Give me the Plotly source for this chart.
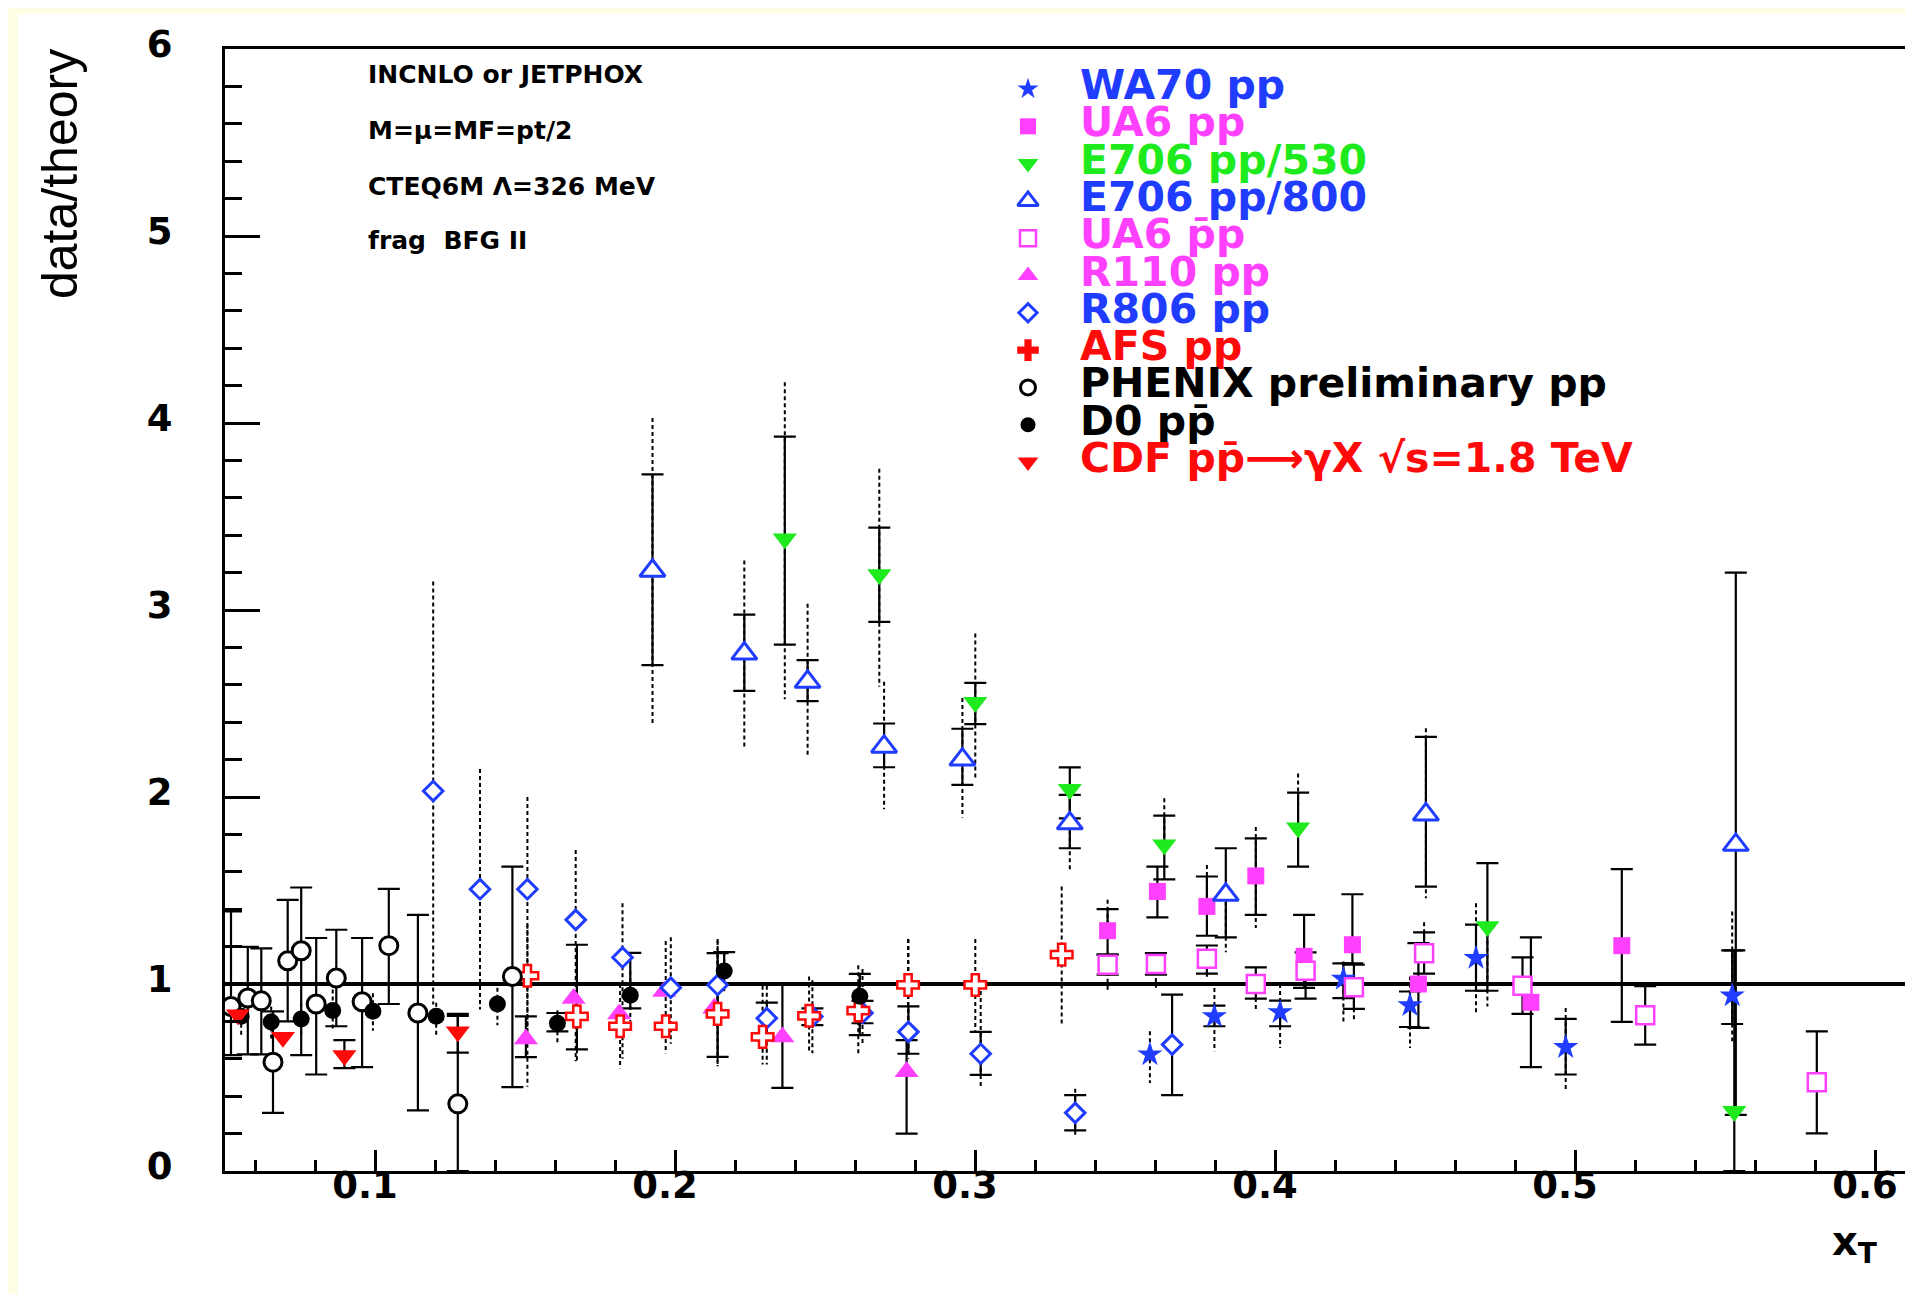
import plotly.graph_objects as go

# ---------------- data (x_T, data/theory) ----------------
# each series: x, y, stat-bar top/bottom (solid, capped), total-bar top/bottom (dotted)
WA70_x = [0.3583, 0.3798, 0.4017, 0.4228, 0.4450, 0.4670, 0.4969, 0.5524]
WA70_y = [0.623, 0.827, 0.849, 1.027, 0.886, 1.139, 0.662, 0.938]
WA70_hi = [None, 0.884, 0.911, 1.11, 0.96, 1.317, 0.813, 1.18]
WA70_lo = [None, 0.774, 0.774, 0.925, 0.77, 0.964, 0.516, 0.786]
WA70_thi = [0.747, 0.979, 1.0, 1.12, 1.04, 1.432, 0.872, 1.388]
WA70_tlo = [0.47, 0.64, 0.658, 0.80, 0.658, 0.836, 0.427, 0.694]

UA6pp_x = [0.3442, 0.3608, 0.3773, 0.3936, 0.4097, 0.4258, 0.4478, 0.4853, 0.5156]
UA6pp_y = [1.285, 1.495, 1.415, 1.578, 1.148, 1.21, 1.0, 0.902, 1.205]
UA6pp_hi = [1.40, 1.628, 1.575, 1.779, 1.37, 1.48, 1.219, 1.249, 1.614]
UA6pp_lo = [1.157, 1.356, 1.258, 1.37, 0.979, 1.11, 0.765, 0.555, 0.797]
UA6pp_thi = [1.45, None, 1.637, 1.84, None, None, None, None, None]
UA6pp_tlo = [None, None, None, 1.30, None, None, None, None, None]

E530_x = [0.2366, 0.2681, 0.3001, 0.3316, 0.3631, 0.4077, 0.4708, 0.5531]
E530_y = [3.381, 3.19, 2.507, 2.041, 1.744, 1.836, 1.308, 0.32]
E530_hi = [3.927, 3.44, 2.61, 2.158, 1.90, 2.023, 1.646, 1.18]
E530_lo = [2.815, 2.936, 2.39, 1.886, 1.56, 1.628, 0.964, 0.0]
E530_thi = [4.218, 3.755, 2.875, None, 1.993, 2.126, None, None]
E530_tlo = [2.523, 2.589, 2.10, None, None, None, 0.88, None]

E800_x = [0.1925, 0.2231, 0.2442, 0.2697, 0.2958, 0.3316, 0.3836, 0.4503, 0.5536]
E800_y = [3.21, 2.767, 2.616, 2.269, 2.20, 1.859, 1.477, 1.907, 1.744]
E800_hi = [3.725, 2.975, 2.732, 2.393, 2.365, 2.011, 1.726, 2.322, 3.2]
E800_lo = [2.705, 2.568, 2.513, 2.159, 2.065, 1.726, 1.249, 1.521, 0.3]
E800_thi = [4.027, 3.265, 3.034, 2.616, 2.53, None, None, 2.367, None]
E800_tlo = [2.385, 2.264, 2.21, 1.935, 1.89, 1.60, 1.17, 1.459, None]

UA6pbar_x = [0.3442, 0.3603, 0.3773, 0.3936, 0.4102, 0.4263, 0.4497, 0.4825, 0.5234, 0.5806]
UA6pbar_y = [1.103, 1.107, 1.135, 1.0, 1.071, 0.982, 1.165, 0.991, 0.833, 0.475]
UA6pbar_hi = [1.157, 1.165, 1.206, 1.089, 1.169, 1.103, 1.276, 1.142, 0.988, 0.747]
UA6pbar_lo = [1.05, 1.05, 1.055, 0.922, 0.922, 0.867, 1.055, 0.84, 0.676, 0.201]
UA6pbar_thi = [None, None, None, None, None, None, 1.33, None, None, None]
UA6pbar_tlo = [0.96, 0.98, 1.03, 0.863, None, 0.80, None, None, None, None]

R110_x = [0.1503, 0.1662, 0.1814, 0.1964, 0.2131, 0.2358, 0.2772]
R110_y = [0.706, 0.922, 0.84, 0.96, 0.87, 0.717, 0.531]
R110_hi = [0.827, None, None, None, None, 1.0, 0.70]
R110_lo = [0.609, None, None, None, None, 0.444, 0.2]
R110_thi = [None, None, None, None, None, None, None]
R110_tlo = [None, None, None, None, None, None, None]

R806_x = [0.1194, 0.1350, 0.1508, 0.1669, 0.1825, 0.1986, 0.2142, 0.2306, 0.2458,
          0.2625, 0.2778, 0.3019, 0.3334, 0.3657]
R806_y = [2.032, 1.507, 1.507, 1.343, 1.142, 0.98, 0.995, 0.817, 0.826,
          0.845, 0.744, 0.627, 0.311, 0.676]
R806_hi = [None, None, None, None, None, None, 1.165, 0.90, 0.87, 0.91, 0.88, 0.744, 0.406, 0.943]
R806_lo = [None, None, None, None, None, None, 0.61, 0.70, 0.78, 0.79, 0.627, 0.514, 0.217, 0.406]
R806_thi = [3.153, 2.15, 2.0, 1.717, 1.432, 1.25, 1.23, 0.99, 1.02, 1.08, 1.24, 1.0, 0.44, None]
R806_tlo = [0.89, 0.863, 0.75, 0.587, 0.60, 0.68, 0.56, 0.57, 0.63, 0.68, 0.60, 0.45, 0.19, None]

AFS_x = [0.1508, 0.1673, 0.1817, 0.1969, 0.2142, 0.2292, 0.2447, 0.2611, 0.2777, 0.3001, 0.3289]
AFS_y = [1.044, 0.827, 0.774, 0.774, 0.84, 0.717, 0.83, 0.858, 0.995, 0.995, 1.157]
AFS_hi = [None, 1.21, None, None, None, None, None, None, None, None, None]
AFS_lo = [None, 0.65, None, None, None, None, None, None, None, None, None]
AFS_thi = [1.317, 1.10, 1.0, 1.23, 1.24, 0.99, 1.04, 1.10, 1.24, 1.24, 1.521]
AFS_tlo = [0.45, 0.58, 0.55, 0.63, 0.56, 0.57, 0.63, 0.63, 0.64, 0.75, 0.783]

PHENIX_x = [0.0520, 0.0576, 0.0621, 0.0660, 0.0709, 0.0754, 0.0804, 0.0871, 0.0957,
            0.1046, 0.1143, 0.1276, 0.1458]
PHENIX_y = [0.88, 0.925, 0.91, 0.582, 1.124, 1.178, 0.893, 1.032, 0.905, 1.205, 0.845, 0.359, 1.04]
PHENIX_hi = [1.388, 1.199, 1.19, 0.854, 1.45, 1.516, 1.246, 1.29, 1.246, 1.509, 1.37, 0.84, 1.628]
PHENIX_lo = [0.62, 0.624, 0.624, 0.311, 0.80, 0.62, 0.516, 0.774, 0.555, 0.893, 0.324, 0.0, 0.448]
PHENIX_thi = [None] * 13
PHENIX_tlo = [None] * 13

D0_x = [0.0554, 0.0654, 0.0754, 0.0859, 0.0993, 0.1204, 0.1408, 0.1608, 0.1851, 0.2164, 0.2616]
D0_y = [0.827, 0.797, 0.813, 0.858, 0.854, 0.827, 0.893, 0.79, 0.94, 1.07, 0.935]
D0_hi = [None, None, None, None, None, None, None, 0.845, 1.166, 1.17, 1.054]
D0_lo = [None, None, None, None, None, None, None, 0.747, 0.87, 1.0, 0.727]
D0_thi = [0.90, 0.88, 0.90, 0.97, 0.95, 0.90, 0.98, 0.86, 1.07, 1.17, 1.05]
D0_tlo = [0.72, 0.70, 0.72, 0.75, 0.75, 0.72, 0.78, 0.68, 0.80, 0.95, 0.82]

CDF_x = [0.0543, 0.0693, 0.0898, 0.1276]
CDF_y = [0.836, 0.715, 0.617, 0.744]
CDF_hi = [None, None, 0.70, 0.83]
CDF_lo = [None, None, 0.55, 0.633]
CDF_thi = [None] * 4
CDF_tlo = [None] * 4

BLUE, MAG, GREEN, RED, BLK = "#1f3cff", "#ff40ff", "#1eea1e", "#ff0a0a", "#000000"

LEGEND_LABELS = ["WA70 pp", "UA6 pp", "E706 pp/530", "E706 pp/800", "UA6 p\u0304p",
                 "R110 pp", "R806 pp", "AFS pp", "PHENIX preliminary pp", "D0 pp\u0304",
                 "CDF pp\u0304\u27f6\u03b3X \u221as=1.8 TeV"]

INFO_LINES = ["INCNLO or JETPHOX", "M=\u03bc=MF=pt/2", "CTEQ6M \u039b=326 MeV", "frag  BFG II"]

X_TICKS = [0.1, 0.2, 0.3, 0.4, 0.5, 0.6]
Y_TICKS = [0, 1, 2, 3, 4, 5, 6]

series = [
    ("WA70", WA70_x, WA70_y, WA70_hi, WA70_lo, WA70_thi, WA70_tlo,
     dict(symbol="star", size=19, color=BLUE, line=dict(width=0)), 16),
    ("UA6pp", UA6pp_x, UA6pp_y, UA6pp_hi, UA6pp_lo, UA6pp_thi, UA6pp_tlo,
     dict(symbol="square", size=17, color=MAG, line=dict(width=0)), 16),
    ("E530", E530_x, E530_y, E530_hi, E530_lo, E530_thi, E530_tlo,
     dict(symbol="triangle-down", size=21, color=GREEN, line=dict(width=0)), 18),
    ("E800", E800_x, E800_y, E800_hi, E800_lo, E800_thi, E800_tlo,
     dict(symbol="triangle-up", size=22, color="white", line=dict(width=3, color=BLUE)), 18),
    ("UA6pbar", UA6pbar_x, UA6pbar_y, UA6pbar_hi, UA6pbar_lo, UA6pbar_thi, UA6pbar_tlo,
     dict(symbol="square", size=18, color="white", line=dict(width=2.5, color=MAG)), 16),
    ("R110", R110_x, R110_y, R110_hi, R110_lo, R110_thi, R110_tlo,
     dict(symbol="triangle-up", size=21, color=MAG, line=dict(width=0)), 18),
    ("R806", R806_x, R806_y, R806_hi, R806_lo, R806_thi, R806_tlo,
     dict(symbol="diamond", size=15, color="white", line=dict(width=3, color=BLUE)), 14),
    ("AFS", AFS_x, AFS_y, AFS_hi, AFS_lo, AFS_thi, AFS_tlo,
     dict(symbol="cross", size=18, color="white", line=dict(width=2.5, color=RED)), 18),
    ("PHENIX", PHENIX_x, PHENIX_y, PHENIX_hi, PHENIX_lo, PHENIX_thi, PHENIX_tlo,
     dict(symbol="circle", size=18, color="white", line=dict(width=3, color=BLK)), 15),
    ("D0", D0_x, D0_y, D0_hi, D0_lo, D0_thi, D0_tlo,
     dict(symbol="circle", size=17, color=BLK, line=dict(width=0)), 15),
    ("CDF", CDF_x, CDF_y, CDF_hi, CDF_lo, CDF_thi, CDF_tlo,
     dict(symbol="triangle-down", size=21, color=RED, line=dict(width=0)), 18),
]
LEGEND_TEXT_COLORS = [BLUE, MAG, GREEN, BLUE, MAG, MAG, BLUE, RED, BLK, BLK, RED]

# ---------------- layout geometry ----------------
W, H = 1913, 1294
ML, MR, MT, MB = 217, 16, 41, 131
PW, PH = W - ML - MR, H - MT - MB


def pxx(p):
    return (p - ML) / PW


def pxy(p):
    return (H - MB - p) / PH


fig = go.Figure()

# dotted (total) error bars
for name, xs, ys, hi, lo, thi, tlo, mk, _ in series:
    lx, ly = [], []
    for i in range(len(xs)):
        if thi[i] is None and tlo[i] is None:
            continue
        a = thi[i] if thi[i] is not None else ys[i]
        b = tlo[i] if tlo[i] is not None else ys[i]
        lx += [xs[i], xs[i], None]
        ly += [a, b, None]
    if lx:
        fig.add_trace(go.Scatter(x=lx, y=ly, mode="lines", showlegend=False, hoverinfo="skip",
                                 line=dict(color=BLK, width=2, dash="4px,3px")))

# solid (statistical) error bars with caps
for name, xs, ys, hi, lo, thi, tlo, mk, _ in series:
    ex, ey, ep, em = [], [], [], []
    for i in range(len(xs)):
        if hi[i] is None:
            continue
        ex.append(xs[i])
        ey.append(ys[i])
        ep.append(max(hi[i] - ys[i], 0))
        em.append(max(ys[i] - lo[i], 0))
    if ex:
        fig.add_trace(go.Scatter(
            x=ex, y=ey, mode="markers", showlegend=False, hoverinfo="skip",
            marker=dict(size=2, opacity=0),
            error_y=dict(type="data", symmetric=False, array=ep, arrayminus=em,
                         color=BLK, thickness=2.2, width=11)))

# markers
for name, xs, ys, hi, lo, thi, tlo, mk, _ in series:
    fig.add_trace(go.Scatter(x=xs, y=ys, mode="markers", name=name, showlegend=False,
                             marker=mk))

# ---------------- hand-made legend (overlay pixel axes) ----------------
LEG_X_MARK, LEG_X_TEXT, LEG_Y0, LEG_DY = 1020, 1070, 77, 37.3
for i, (s, lab, col) in enumerate(zip(series, LEGEND_LABELS, LEGEND_TEXT_COLORS)):
    mk = dict(s[7])
    mk["size"] = s[8]
    if s[0] == "AFS":
        mk = dict(symbol="cross", size=18, color=RED, line=dict(width=0))
    yrow = LEG_Y0 + i * LEG_DY
    fig.add_trace(go.Scatter(x=[LEG_X_MARK], y=[yrow + 4], mode="markers", marker=mk,
                             xaxis="x2", yaxis="y2", showlegend=False, hoverinfo="skip"))
    fig.add_annotation(x=LEG_X_TEXT, y=yrow, xref="x2", yref="y2", text=lab,
                       showarrow=False, xanchor="left", yanchor="middle",
                       font=dict(family="DejaVu Sans", size=41, color=col, weight="bold"))

# info text top-left
INFO_X, INFO_Y = 358, [66, 122, 178, 232]
for t, yy in zip(INFO_LINES, INFO_Y):
    fig.add_annotation(x=INFO_X, y=yy, xref="x2", yref="y2", text=t, showarrow=False,
                       xanchor="left", yanchor="middle",
                       font=dict(family="DejaVu Sans", size=25, color=BLK, weight="bold"))

# axis titles
fig.add_annotation(x=pxx(52), y=pxy(166), xref="paper", yref="paper", text="data/theory",
                   textangle=-90, showarrow=False, xanchor="center", yanchor="middle",
                   font=dict(family="Liberation Sans", size=50, color=BLK))
fig.add_annotation(x=pxx(1846), y=pxy(1236), xref="paper", yref="paper",
                   text="x<sub>T</sub>", showarrow=False, xanchor="center", yanchor="middle",
                   font=dict(family="DejaVu Sans", size=40, color=BLK, weight="bold"))

# reference line at 1
fig.add_hline(y=1, line=dict(color=BLK, width=4), layer="below")

# pale-yellow page border strips and corner pointer
fig.add_shape(type="rect", xref="paper", yref="paper", x0=pxx(0), x1=pxx(W), y0=pxy(6), y1=pxy(0),
              fillcolor="#fffde3", line=dict(width=0), layer="below")
fig.add_shape(type="rect", xref="paper", yref="paper", x0=pxx(0), x1=pxx(10), y0=pxy(H), y1=pxy(0),
              fillcolor="#fffde3", line=dict(width=0), layer="below")
fig.add_shape(type="path", xref="paper", yref="paper",
              path=f"M {pxx(1900)} {pxy(1271)} L {pxx(1912)} {pxy(1284)} L {pxx(1912)} {pxy(1293)} "
                   f"L {pxx(1905)} {pxy(1293)} Z",
              fillcolor=BLK, line=dict(width=0), layer="above")

tickfont = dict(family="DejaVu Sans", size=37, color=BLK, weight="bold")
fig.update_layout(
    width=W, height=H, margin=dict(l=ML, r=MR, t=MT, b=MB, pad=0),
    paper_bgcolor="white", plot_bgcolor="white", showlegend=False,
    xaxis=dict(range=[0.05, 0.61], tickvals=X_TICKS, ticktext=[f"{v:.1f}" for v in X_TICKS],
               ticks="inside", ticklen=21, tickwidth=2.5, tickcolor=BLK,
               minor=dict(dtick=0.02, tick0=0, ticks="inside", ticklen=11, tickwidth=2.5, tickcolor=BLK),
               showline=True, linecolor=BLK, linewidth=3, mirror=True,
               showgrid=False, zeroline=False, tickfont=tickfont,
               ticklabelstandoff=-20, ticklabelshift=-10),
    yaxis=dict(range=[0, 6], tickvals=Y_TICKS, ticktext=[str(v) for v in Y_TICKS],
               ticks="inside", ticklen=35, tickwidth=2.5, tickcolor=BLK,
               minor=dict(dtick=0.2, tick0=0, ticks="inside", ticklen=17, tickwidth=2.5, tickcolor=BLK),
               showline=True, linecolor=BLK, linewidth=3, mirror=True,
               showgrid=False, zeroline=False, tickfont=tickfont, ticklabelstandoff=42,
               ticklabelshift=-5),
    xaxis2=dict(range=[ML, W - MR], overlaying="x", visible=False, showgrid=False),
    yaxis2=dict(range=[H - MB, MT], overlaying="y", visible=False, showgrid=False),
)

fig.write_html("out.html")
